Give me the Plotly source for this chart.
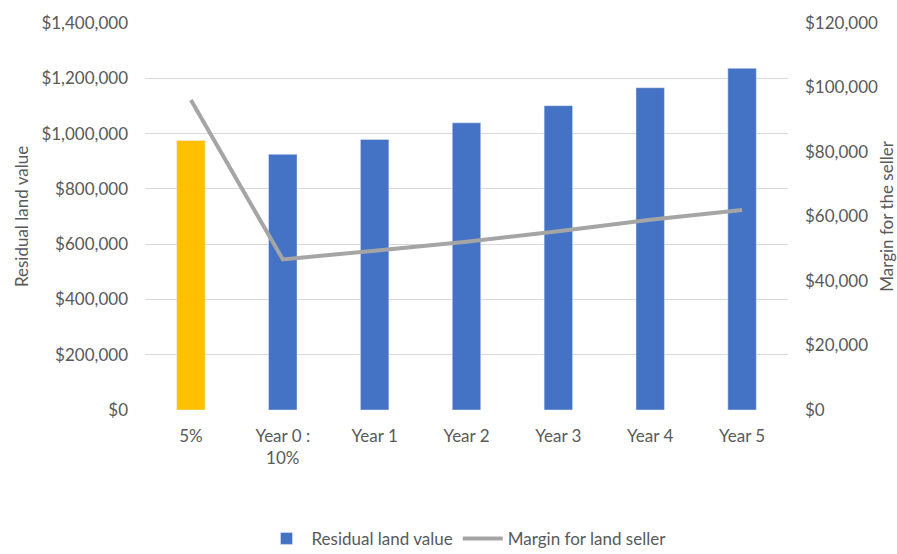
import plotly.graph_objects as go

categories = ["5%", "Year 0 :<br>10%", "Year 1", "Year 2", "Year 3", "Year 4", "Year 5"]
residual_land_value = [975000, 925000, 979000, 1039000, 1101000, 1166000, 1236000]
margin_for_seller = [96100, 46700, 49400, 52200, 55400, 59000, 62000]

left_ticks = [0, 200000, 400000, 600000, 800000, 1000000, 1200000, 1400000]
right_ticks = [0, 20000, 40000, 60000, 80000, 100000, 120000]

FONT = "Lato, Carlito, Calibri, sans-serif"
GREY = "#595959"
FS = 17

fig = go.Figure()
fig.add_trace(go.Bar(
    x=categories[:1], y=residual_land_value[:1],
    marker=dict(color="#FFC000"), width=0.31,
    name="Residual land value", showlegend=False, legendgroup="r",
))
fig.add_trace(go.Bar(
    x=categories[1:], y=residual_land_value[1:],
    marker=dict(color="#4472C4"), width=0.31,
    name="Residual land value", legendgroup="r",
))
fig.add_trace(go.Scatter(
    x=categories, y=margin_for_seller, yaxis="y2", mode="lines",
    line=dict(color="#A5A5A5", width=4),
    name="Margin for land seller",
))

fig.update_layout(
    width=897, height=554,
    margin=dict(l=145, r=109, t=23, b=144, autoexpand=False),
    plot_bgcolor="white", paper_bgcolor="white",
    barmode="overlay",
    font=dict(family=FONT, size=FS, color=GREY),
    xaxis=dict(
        categoryorder="array", categoryarray=categories,
        showgrid=False, zeroline=False, showline=False, automargin=False,
        ticks="", tickfont=dict(size=FS, color=GREY), ticklabelstandoff=14,
    ),
    yaxis=dict(
        range=[0, 1400000], tickvals=left_ticks,
        ticktext=[f"${v:,.0f}" for v in left_ticks],
        showgrid=True, gridcolor="#D9D9D9", gridwidth=1,
        zeroline=False, showline=False, ticks="", automargin=False,
        ticklabelstandoff=16,
        title=dict(text="Residual land value", standoff=8, font=dict(size=FS, color=GREY)),
        tickfont=dict(size=FS, color=GREY),
    ),
    yaxis2=dict(
        overlaying="y", side="right",
        range=[0, 120000], tickvals=right_ticks,
        ticktext=[f"${v:,.0f}" for v in right_ticks],
        showgrid=False, zeroline=False, showline=False, ticks="", automargin=False,
        ticklabelstandoff=16,
        title=dict(text="Margin for the seller", standoff=6, font=dict(size=FS, color=GREY)),
        tickfont=dict(size=FS, color=GREY),
    ),
    legend=dict(
        orientation="h", x=0.5, xanchor="center", y=-0.333, yanchor="middle",
        font=dict(size=FS, color=GREY),
        traceorder="normal", itemwidth=40,
    ),
)

fig.write_html("out.html")
